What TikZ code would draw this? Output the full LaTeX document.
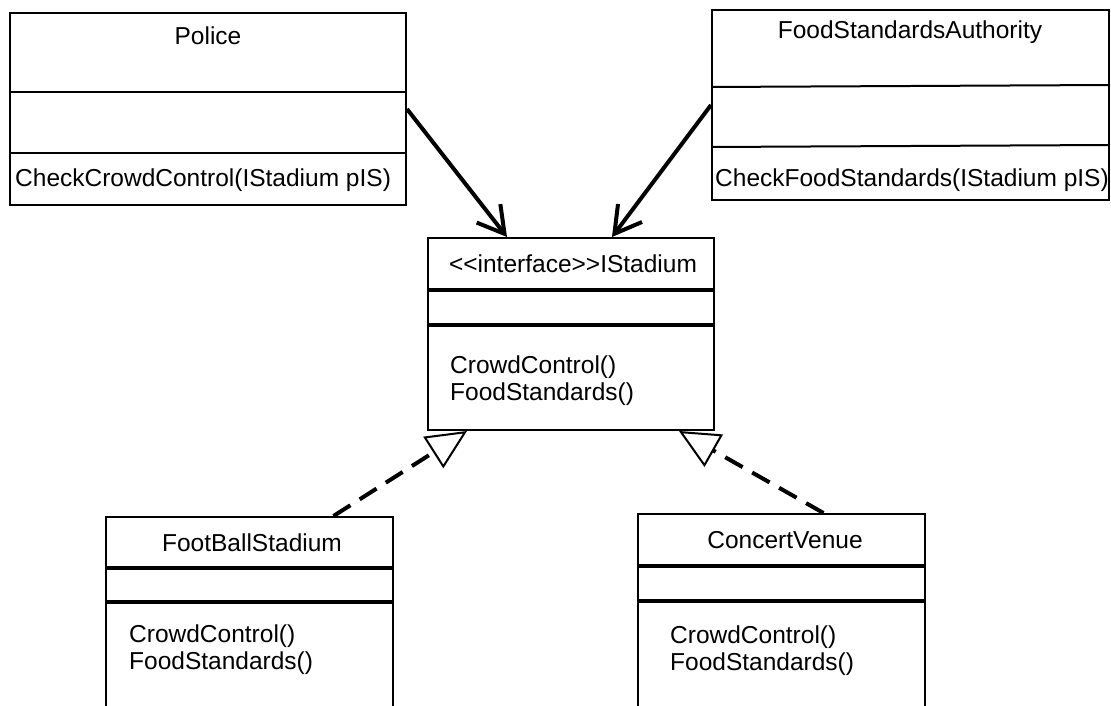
\documentclass[tikz,border=0pt]{standalone}
\usepackage{fontspec}
\setmainfont{Liberation Sans}
\usepackage{tikz}
\usetikzlibrary{arrows.meta,positioning,calc}

\begin{document}
\begin{tikzpicture}[x=1pt,y=-1pt,font=\fontsize{24.5}{27}\selectfont,
  classbox/.style={draw,line width=2pt,inner sep=0pt},
  txt/.style={inner sep=0pt},
  rule/.style={line width=2pt},
  boldrule/.style={line width=3.5pt},
  uses/.style={line width=4pt,-{Straight Barb[length=26pt,width=30pt]}},
  realizes/.style={line width=4pt,dash pattern=on 20pt off 11pt,
    -{Triangle[open,length=40pt,width=37pt,line width=2pt]}}]
  \clip (0,0) rectangle (1111,706);
  % classes
  \node[classbox,minimum width=396pt,minimum height=192pt] (police) at (208,109) {};
  \node[classbox,minimum width=397pt,minimum height=190pt] (fsa) at (910.5,105) {};
  \node[classbox,minimum width=286pt,minimum height=192pt] (istadium) at (571,334) {};
  \node[classbox,minimum width=287pt,minimum height=206pt] (football) at (249.5,620) {};
  \node[classbox,minimum width=287pt,minimum height=210pt] (concert) at (781.5,619) {};
  % compartments
  \draw[rule] ([yshift=-80pt]police.north west) -- ([yshift=-80pt]police.north east);
  \draw[rule] ([yshift=-141pt]police.north west) -- ([yshift=-141pt]police.north east);
  \draw[rule] ([yshift=-78pt]fsa.north west) -- ([yshift=-76pt]fsa.north east);
  \draw[rule] ([yshift=-138pt]fsa.north west) -- ([yshift=-136pt]fsa.north east);
  \draw[boldrule] ([yshift=-53pt]istadium.north west) -- ([yshift=-53pt]istadium.north east);
  \draw[boldrule] ([yshift=-88pt]istadium.north west) -- ([yshift=-88pt]istadium.north east);
  \draw[boldrule] ([yshift=-52pt]football.north west) -- ([yshift=-52pt]football.north east);
  \draw[boldrule] ([yshift=-86pt]football.north west) -- ([yshift=-86pt]football.north east);
  \draw[boldrule] ([yshift=-53pt]concert.north west) -- ([yshift=-53pt]concert.north east);
  \draw[boldrule] ([yshift=-88pt]concert.north west) -- ([yshift=-88pt]concert.north east);
  % texts
  \node[txt] (police-name) at (208,36) {Police};
  \node[txt,anchor=west] (police-ops) at (15,180) {CheckCrowdControl(IStadium pIS)};
  \node[txt] (fsa-name) at (910,32) {FoodStandardsAuthority};
  \node[txt,anchor=west] (fsa-ops) at (715,180) {CheckFoodStandards(IStadium pIS)};
  \node[txt] (istadium-name) at (573,264) {{<}{<}interface{>}{>}IStadium};
  \node[txt,anchor=west,align=left] (istadium-ops) at (450,381) {CrowdControl()\\FoodStandards()};
  \node[txt] (football-name) at (252,543) {FootBallStadium};
  \node[txt,anchor=west,align=left] (football-ops) at (129,650) {CrowdControl()\\FoodStandards()};
  \node[txt] (concert-name) at (785,540) {ConcertVenue};
  \node[txt,anchor=west,align=left] (concert-ops) at (670,651) {CrowdControl()\\FoodStandards()};
  % links
  \draw[uses] (police.east) -- ([xshift=-64pt]istadium.north);
  \draw[uses] (fsa.west) -- ([xshift=41pt]istadium.north);
  \draw[realizes] ([xshift=84pt]football.north) -- ([xshift=-104pt]istadium.south);
  \draw[realizes] ([xshift=42pt]concert.north) -- ([xshift=108pt]istadium.south);
\end{tikzpicture}
\end{document}
